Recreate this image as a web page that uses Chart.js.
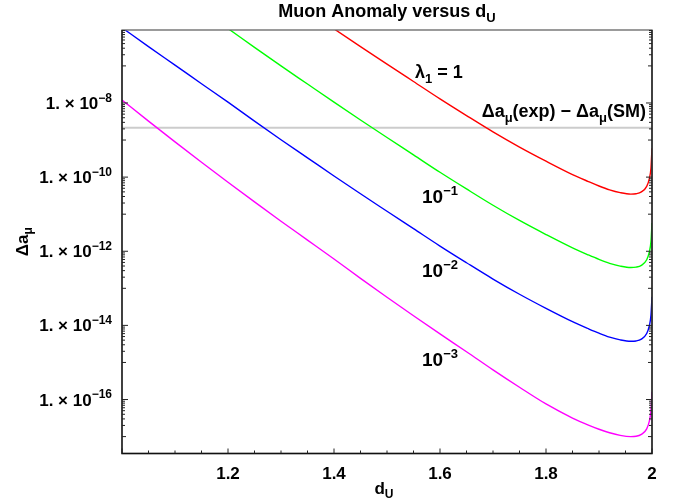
<!DOCTYPE html>
<html>
  <head>
    <meta charset="utf-8">
    <script src="https://cdn.jsdelivr.net/npm/chart.js@4.4.0/dist/chart.umd.min.js"></script>
    <style>
      body { margin: 0; background: #fff; }
    </style>
  </head>
  <body>
    <canvas id="chart" width="674" height="504"></canvas>
    <script>
// d_U sample points
const dU = [1.00, 1.05, 1.10, 1.15, 1.20, 1.25, 1.30, 1.35, 1.40, 1.45, 1.50, 1.55, 1.60, 1.65,
  1.70, 1.75, 1.80, 1.85, 1.88, 1.90, 1.92, 1.94, 1.96, 1.97, 1.98, 1.99, 1.995, 1.998, 2.0];

// Delta a_mu
const lambda1 = [1.00e-2, 3.09e-3, 9.77e-4, 3.09e-4, 9.77e-5, 3.02e-5, 9.55e-6, 3.09e-6, 1.00e-6,
  3.31e-7, 1.12e-7, 3.80e-8, 1.29e-8, 4.57e-9, 1.66e-9, 6.46e-10, 2.69e-10, 1.17e-10, 7.59e-11,
  5.75e-11, 4.52e-11, 3.80e-11, 3.47e-11, 3.55e-11, 3.98e-11, 5.62e-11, 9.12e-11, 1.74e-10, 6.03e-10];
const lambda01 = [1.05e-4, 3.24e-5, 1.02e-5, 3.24e-6, 1.02e-6, 3.16e-7, 1.00e-7, 3.24e-8, 1.05e-8,
  3.47e-9, 1.17e-9, 3.98e-10, 1.35e-10, 4.79e-11, 1.74e-11, 6.76e-12, 2.82e-12, 1.23e-12, 7.94e-13,
  6.03e-13, 4.73e-13, 3.98e-13, 3.63e-13, 3.72e-13, 4.17e-13, 5.89e-13, 9.55e-13, 1.82e-12, 5.75e-12];
const lambda001 = [1.07e-6, 3.31e-7, 1.05e-7, 3.31e-8, 1.05e-8, 3.24e-9, 1.02e-9, 3.31e-10, 1.07e-10,
  3.55e-11, 1.20e-11, 4.07e-12, 1.38e-12, 4.90e-13, 1.78e-13, 6.92e-14, 2.88e-14, 1.26e-14, 8.13e-15,
  6.17e-15, 4.84e-15, 4.07e-15, 3.72e-15, 3.80e-15, 4.27e-15, 6.03e-15, 9.77e-15, 1.86e-14, 5.89e-14];
const lambda0001 = [1.20e-8, 3.24e-9, 8.91e-10, 2.51e-10, 7.24e-11, 2.14e-11, 6.46e-12, 2.00e-12,
  6.17e-13, 1.86e-13, 5.75e-14, 1.82e-14, 5.89e-15, 1.95e-15, 6.31e-16, 2.14e-16, 7.59e-17, 3.16e-17,
  2.04e-17, 1.58e-17, 1.27e-17, 1.08e-17, 1.00e-17, 1.02e-17, 1.15e-17, 1.62e-17, 2.63e-17, 5.01e-17, 1.62e-16];

// experiment minus SM
const expMinusSM = 2.16e-9;

const xTicks = [1.2, 1.4, 1.6, 1.8, 2];
const yTicks = [1e-8, 1e-10, 1e-12, 1e-14, 1e-16];
const yExps = ["−8", "−10", "−12", "−14", "−16"];
const yMin = 3.5e-18, yMax = 9.3e-7;

const FONT = "'Liberation Sans', Arial, sans-serif";

function pts(arr) {
  return dU.map((x, i) => ({x: x, y: arr[i]}));
}

// draw text with sub/superscripts. parts = [[text, ""|"sub"|"sup"], ...]
function rich(ctx, parts, x, y, size, align) {
  var small = Math.round(size * 0.7);
  var w = 0;
  parts.forEach(p => {
    ctx.font = "bold " + (p[1] ? small : size) + "px " + FONT;
    w += ctx.measureText(p[0]).width;
  });
  var cx = x;
  if (align == "right") cx = x - w;
  if (align == "center") cx = x - w / 2;
  ctx.textAlign = "left";
  ctx.textBaseline = "alphabetic";
  parts.forEach(p => {
    ctx.font = "bold " + (p[1] ? small : size) + "px " + FONT;
    var dy = 0;
    if (p[1] == "sup") dy = -size * 0.42;
    if (p[1] == "sub") dy = size * 0.25;
    ctx.fillText(p[0], cx, y + dy);
    cx += ctx.measureText(p[0]).width;
  });
}

const framePlugin = {
  id: "frame",
  afterDraw(chart) {
    var ctx = chart.ctx, a = chart.chartArea;
    var xs = chart.scales.x, ys = chart.scales.y;
    ctx.save();
    ctx.fillStyle = "#000";

    // frame
    ctx.lineWidth = 1.3;
    ctx.strokeStyle = "#666";
    ctx.strokeRect(a.left, a.top, a.right - a.left, a.bottom - a.top);
    ctx.strokeStyle = "#111";
    ctx.beginPath();
    ctx.moveTo(a.left, a.top);
    ctx.lineTo(a.left, a.bottom);
    ctx.lineTo(a.right, a.bottom);
    ctx.lineTo(a.right, a.top);
    ctx.stroke();

    // x ticks, pointing inward
    ctx.lineWidth = 1;
    ctx.strokeStyle = "#222";
    ctx.beginPath();
    for (var k = 0; k <= 20; k++) {
      var v = 1 + k * 0.05;
      var px = xs.getPixelForValue(v);
      var len = (k % 4 == 0) ? 5 : 3;
      ctx.moveTo(px, a.bottom);
      ctx.lineTo(px, a.bottom - len);
    }
    ctx.stroke();

    // y ticks on left and right
    ctx.beginPath();
    for (var e = -6; e >= -16; e -= 2) {
      for (var m = 1; m <= 10; m++) {
        var val = m * Math.pow(10, e - 1);
        if (val < yMin || val > yMax) continue;
        var py = ys.getPixelForValue(val);
        var len = m == 10 ? 6 : (m == 1 ? 4 : 3);
        ctx.moveTo(a.left, py);
        ctx.lineTo(a.left + len, py);
        ctx.moveTo(a.right, py);
        ctx.lineTo(a.right - len, py);
      }
    }
    ctx.stroke();

    // y tick labels
    yTicks.forEach((t, i) => {
      var py = ys.getPixelForValue(t) + 6;
      rich(ctx, [["1. × 10", ""], [yExps[i], "sup"]], a.left - 10, py, 17, "right");
    });

    // title and axis titles
    var mid = (a.left + a.right) / 2;
    rich(ctx, [["Muon Anomaly versus d", ""], ["U", "sub"]], mid, 17, 18, "center");
    rich(ctx, [["d", ""], ["U", "sub"]], mid - 3, 494, 17, "center");
    ctx.save();
    ctx.translate(28, (a.top + a.bottom) / 2);
    ctx.rotate(-Math.PI / 2);
    rich(ctx, [["Δa", ""], ["μ", "sub"]], 0, 0, 17, "center");
    ctx.restore();

    // curve labels
    rich(ctx, [["λ", ""], ["1", "sub"], [" = 1", ""]], 415, 78, 18, "left");
    rich(ctx, [["Δa", ""], ["μ", "sub"], ["(exp) − Δa", ""], ["μ", "sub"], ["(SM)", ""]], 646, 117, 18, "right");
    rich(ctx, [["10", ""], ["−1", "sup"]], 422, 203, 19, "left");
    rich(ctx, [["10", ""], ["−2", "sup"]], 422, 277, 19, "left");
    rich(ctx, [["10", ""], ["−3", "sup"]], 422, 366, 19, "left");
    ctx.restore();
  }
};

function line(arr, color) {
  return {
    data: pts(arr),
    borderColor: color,
    borderWidth: 1.4,
    pointRadius: 0,
    cubicInterpolationMode: "monotone",
    fill: false
  };
}

new Chart(document.getElementById("chart"), {
  type: "line",
  data: {
    datasets: [
      line(lambda1, "#ff0000"),
      line(lambda01, "#00ff00"),
      line(lambda001, "#0000ff"),
      line(lambda0001, "#ff00ff"),
      {
        data: [{x: 1, y: expMinusSM}, {x: 2, y: expMinusSM}],
        borderColor: "#cccccc",
        borderWidth: 2,
        pointRadius: 0
      }
    ]
  },
  options: {
    responsive: false,
    animation: false,
    layout: { padding: { left: 0, right: 22, top: 30, bottom: 0 } },
    plugins: { legend: { display: false }, title: { display: false }, tooltip: { enabled: false } },
    scales: {
      x: {
        type: "linear", min: 1, max: 2,
        grid: { display: false, drawTicks: false },
        border: { display: false },
        afterBuildTicks: s => { s.ticks = xTicks.map(v => ({value: v})); },
        afterFit: s => { s.height = 50.5; },
        ticks: {
          padding: 11, maxRotation: 0, color: "#000",
          font: { family: FONT, size: 17, weight: "bold" },
          callback: v => String(v)
        }
      },
      y: {
        type: "logarithmic", min: yMin, max: yMax,
        grid: { display: false, drawTicks: false },
        border: { display: false },
        ticks: { display: false },
        afterFit: s => { s.width = 122; }
      }
    }
  },
  plugins: [framePlugin]
});
    </script>
  </body>
</html>
